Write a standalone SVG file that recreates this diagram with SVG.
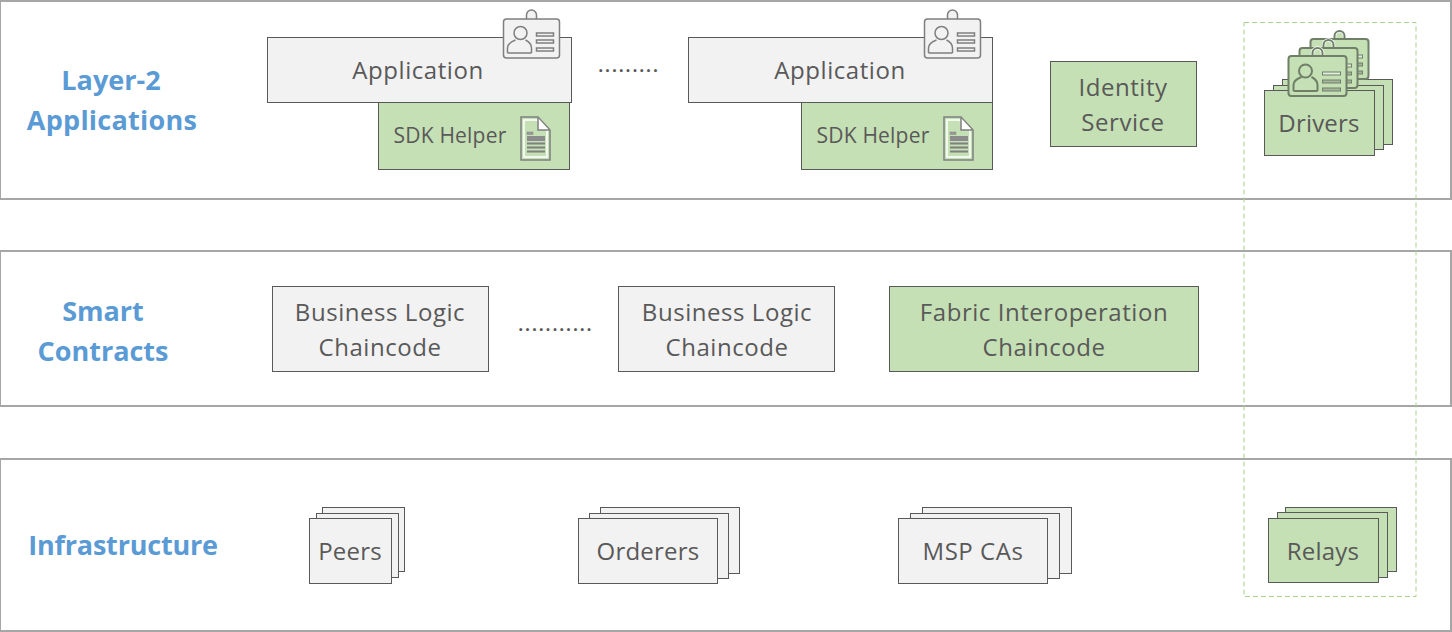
<svg xmlns="http://www.w3.org/2000/svg" xmlns:xlink="http://www.w3.org/1999/xlink" width="1452" height="632" viewBox="0 0 1452 632">
<style>
text{font-family:"Open Sans","Noto Sans","Liberation Sans",sans-serif;text-anchor:middle}
.layer{fill:#fff;stroke:#a6a6a6;stroke-width:2}
.g{fill:#f2f2f2;stroke:#595959;stroke-width:1}
.v{fill:#c5e0b4;stroke:#595959;stroke-width:1}
.t{fill:#595959;font-size:24px;letter-spacing:.55px}
.n{letter-spacing:.2px}
.s{fill:#595959;font-size:21px;letter-spacing:.2px}
.h{fill:#5b9bd5;font-size:27px;font-weight:700}
.dots{fill:#595959;font-size:20px;font-weight:600;letter-spacing:1.350px;text-anchor:start}
.bo{fill:none;stroke:#7f7f7f;stroke-width:1.5}
.bv{fill:none;stroke:#6f7f68;stroke-width:2}
</style>
<defs>
<g id="badgeG">
<rect x="-5" y="-12" width="10" height="15" rx="5" fill="#f2f2f2" stroke="#7f7f7f" stroke-width="1.5"/>
<rect x="-28" y="-3" width="56" height="39" rx="3" fill="#f2f2f2" stroke="#7f7f7f" stroke-width="1.5"/>
<circle cx="-11" cy="11" r="6.500" class="bo"/>
<path d="M-24 31v-5q0-5 8-8M0 31v-5q0-5-6-8M-24 31H0" class="bo"/>
<rect x="5" y="11" width="17" height="3" class="bo"/>
<rect x="5" y="18" width="17" height="3" class="bo"/>
<rect x="5" y="26" width="17" height="3" class="bo"/>
</g>
<g id="badgeV">
<rect x="-5" y="-11" width="10" height="14" rx="5" fill="#c5e0b4" stroke="#fff" stroke-width="3.500"/>
<rect x="-5" y="-11" width="10" height="14" rx="5" fill="#c5e0b4" class="bv"/>
<rect x="-29" y="-3" width="58" height="40" rx="3" fill="#c5e0b4" stroke="#6f7f68" stroke-width="2"/>
<circle cx="-12" cy="12" r="6.500" class="bv"/>
<path d="M-24 32v-6q0-5 8-8M0 32v-6q0-5-6-8M-24 32H0" class="bv"/>
<rect x="5" y="13" width="18" height="3" fill="#e2efda" stroke="#6f7f68"/>
<rect x="5" y="21" width="18" height="3" fill="#a5b59c" stroke="#6f7f68"/>
<rect x="5" y="29" width="18" height="3" fill="#a5b59c" stroke="#6f7f68"/>
</g>
<g id="doc">
<path d="M0 0H17L29 13V43H0Z" fill="#c5e0b4" stroke="#7f7f7f" stroke-width="1.500"/>
<path d="M3 3H15.500L26 14V40H3Z" fill="none" stroke="#fff" stroke-width="1.500"/>
<path d="M17 1V13H28" fill="#fff" stroke="#7f7f7f" stroke-width="1.500"/>
<rect x="6" y="15" width="6" height="2.500" fill="#9a9a9a" stroke="#7f7f7f" stroke-width=".5"/>
<rect x="6" y="19" width="18" height="5" fill="#8c8c8c"/>
<path d="M6 26.500h18M6 30.500h18M6 34.500h18" stroke="#7f7f7f" stroke-width="2" fill="none"/>
</g>
</defs>

<g id="layer-applications"><rect class="layer" x="0" y="1" width="1451" height="198"/><text class="h" x="111" y="90">Layer-2</text><text class="h" x="112" y="130" letter-spacing=".25">Applications</text></g>
<g id="layer-contracts"><rect class="layer" x="0" y="251" width="1451" height="155"/><text class="h" x="103" y="321">Smart</text><text class="h" x="103" y="361">Contracts</text></g>
<g id="layer-infrastructure"><rect class="layer" x="0" y="459" width="1451" height="172"/><text class="h" x="123" y="555" letter-spacing="-.2">Infrastructure</text></g>

<g id="connectors"><rect x="1244" y="22.500" width="172" height="574" fill="none" stroke="#a9d18e" stroke-width="1" stroke-dasharray="5 3"/></g>

<g id="app1"><rect class="g" x="267.500" y="37.500" width="304" height="65"/><text class="t" x="418" y="79" letter-spacing=".85">Application</text><use xlink:href="#badgeG" href="#badgeG" x="531.500" y="22"/></g>
<g id="sdk1"><rect class="v" x="378.500" y="102.500" width="191" height="67"/><text class="s" x="450" y="143">SDK Helper</text><use xlink:href="#doc" href="#doc" x="521" y="117"/></g>
<g id="dots1"><text class="dots" x="598" y="72">.........</text></g>
<g id="app2"><rect class="g" x="688.500" y="37.500" width="304" height="65"/><text class="t" x="840" y="79" letter-spacing=".85">Application</text><use xlink:href="#badgeG" href="#badgeG" x="952.500" y="22"/></g>
<g id="sdk2"><rect class="v" x="801.500" y="102.500" width="191" height="67"/><text class="s" x="873" y="143">SDK Helper</text><use xlink:href="#doc" href="#doc" x="944" y="117"/></g>
<g id="identity"><rect class="v" x="1050.500" y="61.500" width="146" height="85"/><text class="t" x="1123" y="96">Identity</text><text class="t" x="1123" y="131">Service</text></g>
<g id="drivers">
<rect class="v" x="1282.500" y="79.500" width="110" height="65"/>
<rect class="v" x="1273.500" y="85.500" width="110" height="64"/>
<use xlink:href="#badgeV" href="#badgeV" x="1339.500" y="42"/>
<use xlink:href="#badgeV" href="#badgeV" x="1328.500" y="51"/>
<rect class="v" x="1264.500" y="90.500" width="110" height="65"/>
<use xlink:href="#badgeV" href="#badgeV" x="1317.500" y="59"/>
<text class="t n" x="1319" y="132">Drivers</text>
</g>

<g id="bl1"><rect class="g" x="272.500" y="286.500" width="216" height="85"/><text class="t" x="380" y="321">Business Logic</text><text class="t" x="380" y="356">Chaincode</text></g>
<g id="dots2"><text class="dots" x="518" y="331">...........</text></g>
<g id="bl2"><rect class="g" x="618.500" y="286.500" width="216" height="85"/><text class="t" x="727" y="321">Business Logic</text><text class="t" x="727" y="356">Chaincode</text></g>
<g id="fic"><rect class="v" x="889.500" y="286.500" width="309" height="85"/><text class="t" x="1044" y="321">Fabric Interoperation</text><text class="t" x="1044" y="356">Chaincode</text></g>

<g id="peers"><rect class="g" x="322.500" y="507.500" width="82" height="64"/><rect class="g" x="316.500" y="513.500" width="82" height="64"/><rect class="g" x="309.500" y="518.500" width="82" height="65"/><text class="t n" x="350" y="560">Peers</text></g>
<g id="orderers"><rect class="g" x="600.500" y="507.500" width="139" height="66"/><rect class="g" x="589.500" y="513.500" width="139" height="65"/><rect class="g" x="578.500" y="518.500" width="139" height="65"/><text class="t n" x="648" y="560">Orderers</text></g>
<g id="msp"><rect class="g" x="922.500" y="507.500" width="149" height="66"/><rect class="g" x="910.500" y="513.500" width="149" height="65"/><rect class="g" x="898.500" y="518.500" width="149" height="65"/><text class="t" x="973" y="560">MSP CAs</text></g>
<g id="relays"><rect class="v" x="1285.500" y="507.500" width="111" height="64"/><rect class="v" x="1277.500" y="512.500" width="110" height="65"/><rect class="v" x="1268.500" y="518.500" width="110" height="64"/><text class="t n" x="1323" y="560">Relays</text></g>
</svg>
